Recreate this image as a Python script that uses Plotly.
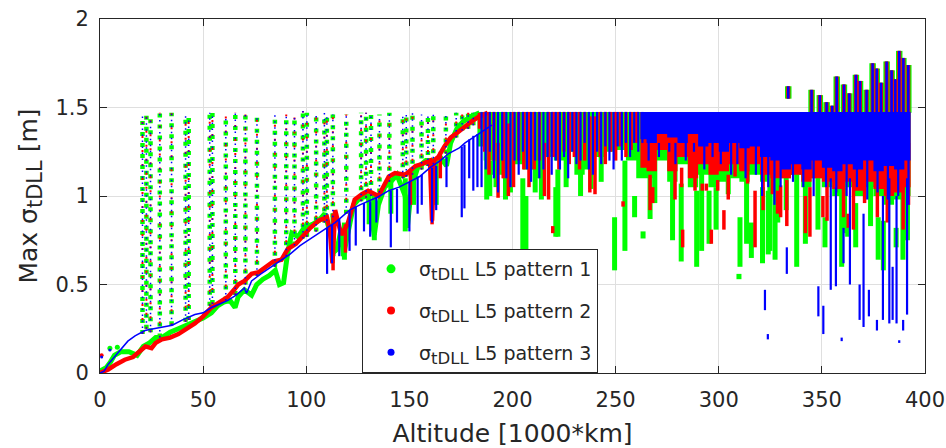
import plotly.graph_objects as go

# ---------------------------------------------------------------------------
# Max sigma_tDLL versus altitude for three L5 patterns
# (altitude in 1000 km, sigma in m)
# ---------------------------------------------------------------------------

# main rising track of each pattern below ~190 (1000 km)
g_alt = [0, 3, 5, 7, 10, 14, 18, 21, 24, 27, 30, 34, 38, 42, 46, 50, 54, 57, 60, 63,
         65.5, 67, 70, 73.5, 76, 79, 82, 85, 87, 89, 91, 93, 96, 99, 103, 106, 109, 112, 113, 115,
         117, 118, 120, 123, 126, 130, 133, 135, 138, 141, 144, 148, 149, 151, 154, 158, 162, 165, 168, 170,
         173, 176, 180, 184]
g_val = [0.01, 0.03, 0.06, 0.1, 0.12, 0.12, 0.1, 0.15, 0.17, 0.2, 0.2, 0.23, 0.25, 0.27, 0.29, 0.31, 0.34, 0.38, 0.4, 0.41,
         0.37, 0.43, 0.47, 0.44, 0.5, 0.53, 0.55, 0.58, 0.5, 0.51, 0.68, 0.79, 0.77, 0.82, 0.84, 0.86, 0.9, 0.78, 0.68, 0.7,
         0.82, 0.66, 0.78, 0.95, 0.99, 1.0, 0.78, 0.95, 1.05, 1.08, 1.12, 1.0, 0.82, 1.05, 1.16, 1.2, 1.2, 1.22, 1.17, 1.3,
         1.38, 1.42, 1.45, 1.47]

r_alt = [0, 4, 8, 12, 16, 19, 22, 25, 27, 30, 34, 38, 42, 46, 50, 54, 58, 62, 65, 67,
         70, 73.5, 77, 81, 84, 88, 91, 95, 98, 102, 106, 110, 111.5, 112.7, 114, 117, 120, 123.5, 127, 130,
         135, 140, 143, 148, 153, 156, 160, 161, 162, 164, 167, 170, 173.5, 176.7, 180, 184, 188]
r_val = [0.0, 0.02, 0.05, 0.075, 0.09, 0.12, 0.15, 0.14, 0.17, 0.19, 0.2, 0.22, 0.25, 0.28, 0.32, 0.37, 0.4, 0.43, 0.47, 0.5,
         0.52, 0.56, 0.57, 0.6, 0.63, 0.64, 0.7, 0.73, 0.77, 0.82, 0.86, 0.88, 0.8, 0.62, 0.92, 0.78, 0.84, 0.98, 1.01, 1.03,
         1.0, 1.11, 1.13, 1.12, 1.17, 1.18, 1.2, 0.86, 1.2, 1.22, 1.28, 1.33, 1.36, 1.39, 1.42, 1.45, 1.47]

b_alt = [0, 2, 4, 7, 10, 13.5, 17, 21.8, 26, 30, 35, 40, 46, 50, 54, 58, 62, 66, 70, 71,
         73.5, 78, 83, 88, 92, 97, 102, 106, 110, 114, 118, 121, 126, 130, 135, 140, 145, 150, 155, 160,
         165, 169, 174, 177, 181, 185, 190]
b_val = [0.0, 0.01, 0.05, 0.09, 0.13, 0.18, 0.21, 0.24, 0.25, 0.26, 0.27, 0.3, 0.33, 0.34, 0.37, 0.39, 0.41, 0.44, 0.48, 0.45,
         0.52, 0.56, 0.6, 0.64, 0.67, 0.72, 0.76, 0.79, 0.82, 0.85, 0.89, 0.92, 0.95, 0.97, 0.996, 1.03, 1.05, 1.08, 1.11, 1.16,
         1.2, 1.24, 1.27, 1.3, 1.33, 1.36, 1.4]

# isolated samples right after launch
g_early_alt = [4.8, 8.4]
g_early_val = [0.14, 0.145]
r_early_alt = [0.8]
r_early_val = [0.1]
b_early_alt = [0.8, 4.8]
b_early_val = [0.09, 0.13]

# sparse passes: columns of samples from the track up to the limit
pass_alt = [20.6, 22.5, 24.5, 29.0, 34.7, 41.5, 43.0, 53.2, 54.5, 61.0, 65.6, 70.5, 76.1, 84.8, 90.3, 94.3,
            98.4, 100.3, 104.8, 108.8, 110.0, 112.9, 119.4, 126.6, 129.0, 131.4, 135.5, 140.3, 146.8, 148.5,
            151.5, 155.9, 159.0, 161.6, 167.7, 172.7, 175.6, 178.5, 181.0]
pass_lo = [0.22, 0.25, 0.23, 0.2, 0.27, 0.29, 0.3, 0.38, 0.39, 0.41, 0.44, 0.5, 0.55, 0.6, 0.66, 0.72,
           0.76, 0.77, 0.8, 0.85, 0.86, 0.88, 0.9, 0.97, 0.99, 1.0, 1.02, 1.08, 1.1, 1.11,
           1.12, 1.15, 1.17, 1.18, 1.24, 1.33, 1.37, 1.38, 1.4]
pass_hi = [1.45, 1.46, 1.44, 1.47, 1.47, 1.45, 1.44, 1.47, 1.47, 1.45, 1.47, 1.46, 1.46, 1.47, 1.46, 1.45,
           1.48, 1.47, 1.46, 1.47, 1.47, 1.46, 1.46, 1.47, 1.47, 1.47, 1.46, 1.47, 1.46, 1.46,
           1.47, 1.46, 1.47, 1.46, 1.47, 1.47, 1.47, 1.47, 1.47]

# saturated region: upper limit and lower edge of the dense band
band_limit = 1.475
g_band_alt = [183, 186, 190, 195, 200, 205, 210, 215, 220, 225, 230, 235, 240, 245, 250, 255, 260, 265, 270, 275,
              280, 285, 290, 295, 300, 305, 310, 315, 320, 325, 330, 335, 340, 345, 350, 355, 360, 365, 370, 375,
              380, 385, 390, 393]
g_band_lo = [1.40, 1.28, 1.2, 1.12, 1.1, 1.18, 1.15, 1.1, 1.22, 1.2, 1.25, 1.12, 1.15, 1.22, 1.25, 1.26, 1.2, 1.1, 1.1, 1.2,
             1.08, 1.18, 1.05, 1.12, 1.05, 1.08, 1.1, 1.08, 1.12, 1.08, 1.05, 1.1, 1.12, 1.05, 1.1, 1.05, 1.0, 1.05, 1.0, 1.05,
             1.0, 0.95, 0.98, 1.0]
r_band_alt = [262, 265, 270, 275, 280, 285, 290, 295, 300, 305, 310, 315, 320, 325, 330, 335, 340, 345, 350, 355,
              360, 365, 370, 375, 380, 385, 390, 393]
r_band_lo = [1.22, 1.16, 1.14, 1.26, 1.14, 1.22, 1.1, 1.18, 1.12, 1.14, 1.18, 1.14, 1.18, 1.12, 1.1, 1.1, 1.12, 1.08, 1.1, 1.08,
             1.04, 1.08, 1.03, 1.08, 1.04, 1.0, 1.02, 1.05]
b_band_alt = [262, 265, 270, 275, 280, 285, 290, 295, 300, 305, 310, 315, 320, 325, 330, 335, 340, 345, 350, 355,
              360, 365, 370, 375, 380, 385, 390, 393]
b_band_lo = [1.3, 1.32, 1.3, 1.35, 1.33, 1.3, 1.35, 1.28, 1.3, 1.25, 1.3, 1.27, 1.28, 1.22, 1.2, 1.15, 1.18, 1.15, 1.2, 1.16,
             1.14, 1.18, 1.15, 1.2, 1.14, 1.17, 1.15, 1.2]

# vertical excursions (altitude, lowest, highest)
g_drop_alt = [113, 118.5, 130.5, 133, 141, 148, 152, 163,
              187.5, 189, 192, 196.6, 199, 205, 206.5, 211, 214, 221, 222, 226, 233, 238, 243, 249.5, 254.5,
              259.2, 263.3, 266.7, 269, 277.6, 281.8, 289.3, 291.7, 295.3, 298.7, 304.6, 310.3, 309.8, 313.5, 315.8,
              321.2, 324, 327.3, 324.8, 328.6, 332.7, 337.8, 342, 348.1, 351.5, 359.6, 361, 362.5, 366.4, 373.6,
              377.3, 379.8, 386, 389.3, 391.5]
g_drop_lo = [0.66, 0.64, 0.84, 0.75, 0.9, 0.8, 0.95, 0.95,
             0.98, 1.0, 1.05, 0.98, 1.02, 0.6, 0.7, 1.02, 0.98, 0.77, 0.77, 1.05, 1.0, 1.04, 1.08, 0.58, 0.69,
             0.88, 0.76, 0.87, 0.96, 0.75, 0.63, 0.6, 0.69, 0.73, 0.81, 1.01, 0.6, 0.53, 0.73, 0.65,
             0.62, 0.67, 0.64, 0.69, 0.85, 0.92, 0.6, 0.73, 0.81, 0.71, 0.6, 0.79, 0.77, 0.71, 0.83,
             0.64, 0.58, 0.71, 0.64, 0.75]
g_drop_hi = [0.9, 0.85, 1.0, 1.0, 1.1, 1.1, 1.15, 1.2,
             1.3, 1.2, 1.25, 1.2, 1.3, 1.1, 1.0, 1.3, 1.25, 1.05, 1.15, 1.3, 1.3, 1.3, 1.3, 0.88, 1.2,
             1.0, 0.8, 1.26, 1.31, 1.18, 1.07, 1.03, 1.37, 1.03, 1.05, 1.34, 0.88, 0.56, 1.32, 0.85,
             1.05, 1.03, 1.12, 1.18, 1.12, 1.16, 1.14, 1.14, 1.12, 0.88, 1.14, 1.05, 0.85, 0.96, 1.12,
             0.88, 0.86, 0.82, 1.0, 1.1]

r_drop_alt = [113, 119, 150.5, 161, 165,
              184, 186.5, 188.6, 191, 193, 195.5, 198, 200.5, 203, 205.5, 208, 210.5, 213, 215.5, 217.5, 220,
              222.5, 225, 227.5, 230, 232.5, 235, 237.5, 240, 242.5, 245, 247.5, 250, 252.5, 255, 257.5, 260,
              219.5, 253.6,
              266.7, 268, 278.8, 282, 282.5, 288.5, 292, 294, 296.4, 299.5, 302.5, 304.6, 307.9, 310.8, 314,
              317.6, 321.5, 326, 328.5, 330,
              333, 335.5, 342, 344.2, 350.5, 352.5, 360.5, 362.8, 365.3, 370.7, 376.9, 381.7, 389.4, 392]
r_drop_lo = [0.58, 0.68, 0.95, 0.84, 1.1,
             1.38, 1.25, 1.12, 1.2, 0.99, 1.1, 1.0, 1.05, 1.2, 1.15, 1.05, 1.15, 1.2, 1.0, 0.98, 1.22,
             1.15, 1.25, 1.18, 1.22, 1.15, 1.2, 1.02, 1.01, 1.22, 1.18, 1.25, 1.2, 1.28, 1.22, 1.26, 1.3,
             0.79, 0.94,
             0.92, 0.96, 0.98, 1.05, 0.71, 1.03, 1.03, 1.03, 0.73, 1.03, 0.81, 0.98, 1.11, 1.15, 1.07,
             0.71, 0.92, 1.01, 0.9, 0.88,
             0.83, 1.15, 0.79, 0.77, 0.88, 0.86, 0.88, 0.82, 0.81, 0.96, 0.88, 0.85, 0.81, 0.95]
r_drop_hi = [0.9, 0.84, 1.15, 1.2, 1.25,
             1.47, 1.475, 1.475, 1.475, 1.3, 1.475, 1.41, 1.475, 1.475, 1.475, 1.475, 1.475, 1.475, 1.3, 1.475, 1.475,
             1.475, 1.475, 1.475, 1.475, 1.475, 1.475, 1.45, 1.45, 1.475, 1.475, 1.475, 1.475, 1.475, 1.475, 1.475, 1.475,
             0.83, 0.97,
             1.12, 1.05, 1.24, 1.16, 0.81, 1.4, 1.07, 1.07, 0.81, 1.09, 0.92, 1.12, 1.39, 1.41, 1.15,
             1.03, 1.41, 1.22, 1.03, 1.06,
             1.09, 1.45, 1.0, 1.05, 1.0, 1.14, 1.28, 0.9, 1.12, 1.43, 1.37, 1.22, 1.37, 1.3]

# blue: dips of the track, lines in the 185-263 band, jagged band edge, deep excursions
b_drop_alt = [110.1, 112.5, 116, 121, 124, 128, 131, 134, 141, 144, 150, 154, 156, 161, 163, 168, 175.4, 176.7,
              179, 181, 183,
              185, 187, 189, 191, 193, 195, 197, 199, 201, 203, 205, 207, 209, 211, 213, 215, 217, 219, 221, 223,
              225, 227, 229, 231, 233, 235, 237, 239, 241, 243, 245, 247, 249, 251, 253, 255, 257, 259, 261, 263,
              266, 271, 276, 279, 284, 288, 293, 297, 301, 306, 309, 313, 318, 321, 324, 327, 330, 336, 341, 346,
              352, 357, 362, 367, 372, 377, 382, 387, 392,
              322.4, 323.8, 333, 348.3, 350.7, 354.3, 356.8, 359.6, 360.5, 363.6, 368.3, 370.2, 372.8, 376.7,
              379.6, 382.7, 384.3, 386.2, 387.5, 389.4, 391.3]
b_drop_lo = [0.56, 0.62, 0.66, 0.69, 0.72, 0.8, 0.77, 0.85, 0.71, 0.85, 0.8, 0.9, 0.95, 0.85, 0.92, 1.05, 0.88, 0.93,
             1.1, 1.03, 1.05,
             1.05, 1.15, 1.25, 1.1, 1.02, 1.2, 1.1, 1.05, 1.2, 1.12, 1.25, 1.15, 1.08, 1.2, 1.1, 1.15, 1.22, 1.12, 1.2, 1.15,
             1.22, 1.1, 1.25, 1.18, 1.2, 1.3, 1.15, 1.12, 1.25, 1.18, 1.28, 1.2, 1.15, 1.28, 1.2, 1.3, 1.22, 1.3, 1.25, 1.3,
             1.2, 1.22, 1.25, 1.18, 1.2, 1.25, 1.15, 1.22, 1.18, 1.12, 1.18, 1.1, 1.12, 1.0, 1.05, 0.95, 1.05, 1.08, 1.05, 1.0,
             1.05, 1.02, 1.0, 1.05, 0.98, 1.02, 0.98, 1.0, 0.95,
             0.355, 0.19, 0.56, 0.32, 0.22, 0.47, 0.49, 0.18, 0.62, 0.5, 0.3, 0.26, 0.32, 0.24,
             0.3, 0.28, 0.3, 0.28, 0.17, 0.24, 0.33]
b_drop_hi = [0.82, 0.84, 0.87, 0.92, 0.94, 0.96, 0.97, 0.99, 1.03, 1.04, 1.08, 1.11, 1.12, 1.16, 1.17, 1.22, 1.28, 1.29,
             1.32, 1.34, 1.35,
             1.475, 1.475, 1.475, 1.475, 1.475, 1.475, 1.475, 1.475, 1.475, 1.475, 1.475, 1.475, 1.475, 1.475, 1.475, 1.475,
             1.475, 1.475, 1.475, 1.475, 1.475, 1.475, 1.475, 1.475, 1.475, 1.475, 1.475, 1.475, 1.475, 1.475, 1.475,
             1.475, 1.475, 1.475, 1.475, 1.475, 1.475, 1.475, 1.475, 1.475,
             1.3, 1.3, 1.3, 1.3, 1.3, 1.3, 1.3, 1.3, 1.3, 1.3, 1.3, 1.3, 1.3, 1.3, 1.3, 1.3, 1.3, 1.3, 1.3, 1.3,
             1.3, 1.3, 1.3, 1.3, 1.3, 1.3, 1.3, 1.3, 1.3,
             0.47, 0.22, 0.71, 0.49, 0.38, 1.1, 1.05, 0.2, 0.82, 1.1, 0.5, 0.9, 0.47, 0.3,
             1.0, 1.1, 0.6, 1.0, 0.185, 0.3, 1.1]

# peaks rising above the limit at the far end
peak_alt = [333.7, 345, 349, 352.3, 355, 357.2, 360.7, 363.3, 366.5, 368.5, 371.7, 374.6, 376.6, 378.7, 381.4,
            383.8, 385.6, 387.5, 389.5, 391.9]
peak_lo = [1.55, 1.47, 1.47, 1.47, 1.47, 1.47, 1.47, 1.47, 1.47, 1.47, 1.47, 1.47, 1.47, 1.47, 1.47,
           1.47, 1.47, 1.47, 1.47, 1.47]
peak_hi = [1.62, 1.60, 1.57, 1.53, 1.51, 1.675, 1.63, 1.58, 1.685, 1.65, 1.60, 1.75, 1.72, 1.64, 1.76,
           1.71, 1.66, 1.82, 1.78, 1.74]

series_names = ["σ<sub><span style=\"font-size:16.5px\">tDLL</span></sub> L5 pattern 1",
                "σ<sub><span style=\"font-size:16.5px\">tDLL</span></sub> L5 pattern 2",
                "σ<sub><span style=\"font-size:16.5px\">tDLL</span></sub> L5 pattern 3"]

GREEN, RED, BLUE = "#00ff00", "#ff0000", "#0000ff"
FONT = "DejaVu Sans"
INK = "#262626"


def segments(xs, los, his):
    """Vertical segments separated by gaps, for a single line trace."""
    x, y = [], []
    for a, lo, hi in zip(xs, los, his):
        x += [a, a, None]
        y += [lo, hi, None]
    return x, y


def band(xs, los, top):
    """Closed polygon between a flat top and a lower edge."""
    return list(xs) + list(xs)[::-1], [top] * len(xs) + list(los)[::-1]


fig = go.Figure()


def add_line(x, y, color, width, dash=None):
    fig.add_trace(go.Scatter(x=x, y=y, mode="lines", showlegend=False, hoverinfo="skip",
                             connectgaps=False,
                             line=dict(color=color, width=width, dash=dash)))


def add_fill(x, y, color):
    fig.add_trace(go.Scatter(x=x, y=y, mode="lines", fill="toself", fillcolor=color,
                             line=dict(width=0, color=color, shape="hv"),
                             showlegend=False, hoverinfo="skip"))


def add_points(x, y, color, size):
    fig.add_trace(go.Scatter(x=x, y=y, mode="markers", showlegend=False, hoverinfo="skip",
                             marker=dict(color=color, size=size, line=dict(width=0))))


# pattern 1 (green)
bx, by = band(g_band_alt, g_band_lo, band_limit)
add_fill(bx, by, GREEN)
add_line(*segments(pass_alt, pass_lo, pass_hi), GREEN, 4.5, "4px,7px")
add_line(*segments(g_drop_alt, g_drop_lo, g_drop_hi), GREEN, 5)
add_line(g_alt, g_val, GREEN, 5)
add_points(g_early_alt, g_early_val, GREEN, 5)
add_line(*segments(peak_alt, peak_lo, peak_hi), GREEN, 6.5)

# pattern 2 (red)
bx, by = band(r_band_alt, r_band_lo, band_limit)
add_fill(bx, by, RED)
add_line(*segments(pass_alt, pass_lo, pass_hi), RED, 2, "2px,12px")
add_line(*segments(r_drop_alt, r_drop_lo, r_drop_hi), RED, 3.5)
add_line(r_alt, r_val, RED, 4.5)
add_points(r_early_alt, r_early_val, RED, 4)
add_line(*segments(peak_alt, peak_lo, peak_hi), RED, 4)

# pattern 3 (blue)
bx, by = band(b_band_alt, b_band_lo, band_limit)
add_fill(bx, by, BLUE)
add_line(*segments(pass_alt, pass_lo, pass_hi), BLUE, 1.5, "1.5px,4.5px")
add_line(*segments(b_drop_alt, b_drop_lo, b_drop_hi), BLUE, 2.2)
add_line(b_alt, b_val, BLUE, 1.5)
add_points(b_early_alt, b_early_val, BLUE, 3)
add_line(*segments(peak_alt, peak_lo, peak_hi), BLUE, 2.5)

# legend entries
for i, (name, color, size) in enumerate(zip(series_names, [GREEN, RED, BLUE], [9, 8, 7])):
    fig.add_trace(go.Scatter(x=[None], y=[None], mode="markers", name=name, legendgroup=f"p{i}",
                             marker=dict(color=color, size=size)))

axis_common = dict(
    showline=True, linecolor=INK, linewidth=1, mirror="ticks",
    ticks="inside", ticklen=7, tickwidth=1, tickcolor=INK,
    showgrid=True, gridcolor="#dfdfdf", gridwidth=1, zeroline=False,
    tickfont=dict(family=FONT, size=21, color=INK),
)

fig.update_xaxes(range=[0, 400], dtick=50, tick0=0,
                 title=dict(text="Altitude [1000*km]", font=dict(family=FONT, size=25, color=INK), standoff=13),
                 ticklabelstandoff=8, **axis_common)
fig.update_yaxes(range=[0, 2], dtick=0.5, tick0=0,
                 title=dict(text="Max σ<sub><span style=\"font-size:21px\">tDLL</span></sub> [m]",
                            font=dict(family=FONT, size=25, color=INK), standoff=10),
                 ticklabelstandoff=6, **axis_common)

fig.update_layout(
    width=946, height=448,
    margin=dict(l=100, r=21, t=19, b=75, autoexpand=False),
    paper_bgcolor="white", plot_bgcolor="white",
    font=dict(family=FONT, color=INK),
    hovermode=False,
    legend=dict(x=0.3176, y=0, xanchor="left", yanchor="bottom",
                bgcolor="white", bordercolor=INK, borderwidth=1,
                font=dict(family=FONT, size=19, color=INK),
                itemwidth=46, tracegroupgap=14),
)

fig.write_html("out.html")
